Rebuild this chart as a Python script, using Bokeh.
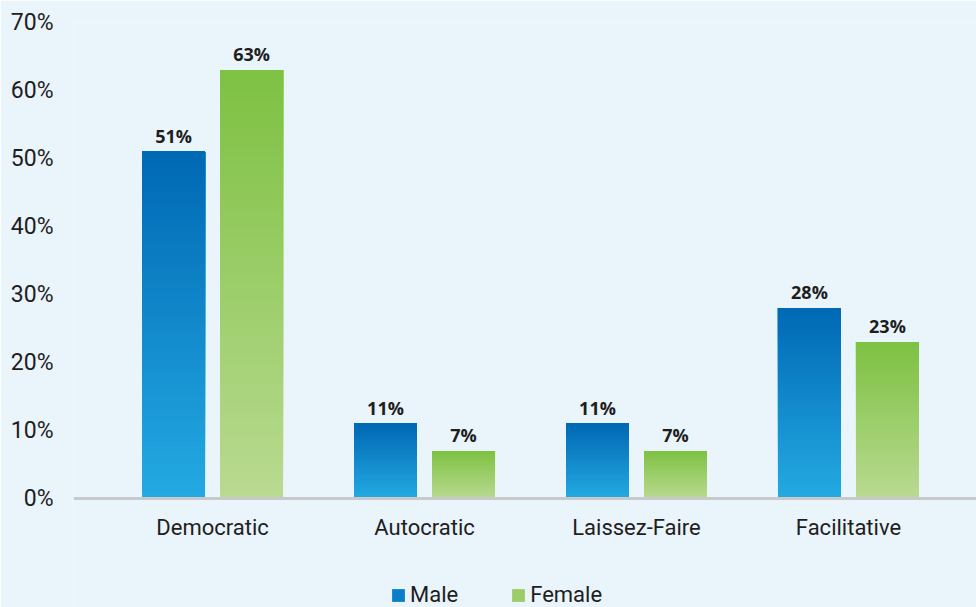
import numpy as np
from bokeh.plotting import figure
from bokeh.models import ColumnDataSource, Legend, LegendItem, FixedTicker, Span
from bokeh.core.properties import value
from bokeh.embed import file_html
from bokeh.resources import INLINE

# ---- data ----
categories = ["Democratic", "Autocratic", "Laissez-Faire", "Facilitative"]
male = [51, 11, 11, 28]
female = [63, 7, 7, 23]
series_names = ["Male", "Female"]
y_ticks = [0, 10, 20, 30, 40, 50, 60, 70]

# ---- style ----
BG = "#eaf4fb"
TXT = "#1e1e1e"
BLUE_TOP, BLUE_BOT = (0, 104, 180), (36, 170, 226)
GREEN_TOP, GREEN_BOT = (125, 193, 66), (186, 218, 145)
OFFSET = 0.184
WIDTH = 0.297
NSLICES = 60


def hexc(c):
    return "#%02x%02x%02x" % tuple(int(round(v)) for v in c)


def gradient_source(values, offset, ctop, cbot):
    # vertical gradient: stacked layers, each from its start up to the bar's value
    xs, bots, tops, cols = [], [], [], []
    for i, v in enumerate(values):
        for k in range(NSLICES):
            t = (k + 0.5) / NSLICES
            c = [cbot[j] + (ctop[j] - cbot[j]) * t for j in range(3)]
            xs.append(i + offset)
            bots.append(v * k / NSLICES)
            tops.append(v)
            cols.append(hexc(c))
    return ColumnDataSource(dict(x=xs, bottom=bots, top=tops, color=cols))


# frame runs to the bottom edge; value 0 sits 109 px above it
p = figure(frame_width=903, frame_height=585, x_range=(-0.656, 3.604), y_range=(-16.03, 70),
           output_backend="svg", toolbar_location=None,
           background_fill_color=BG, border_fill_color=BG,
           outline_line_color=None,
           min_border_left=73, min_border_right=0, min_border_top=22, min_border_bottom=0)
p.grid.visible = False
p.xaxis.visible = False

# baseline
p.add_layout(Span(location=0, dimension="width", line_color="#c8c9cb", line_width=3))

for vals, off, ct, cb in [(male, -OFFSET, BLUE_TOP, BLUE_BOT), (female, OFFSET, GREEN_TOP, GREEN_BOT)]:
    src = gradient_source(vals, off, ct, cb)
    p.vbar(x="x", bottom="bottom", top="top", width=WIDTH, source=src,
           fill_color="color", line_color=None)

# data labels
lab_x = [i - OFFSET for i in range(len(categories))] + [i + OFFSET for i in range(len(categories))]
lab_y = male + female
lab_t = [f"{v}%" for v in lab_y]
p.text(x=lab_x, y=lab_y, text=lab_t, text_align="center", text_baseline="bottom",
       y_offset=-4, text_font=value("Open Sans"), text_font_style="bold",
       text_font_size="18px", text_color=TXT)

# category labels
p.text(x=list(range(len(categories))), y=[0] * len(categories), text=categories,
       text_align="center", text_baseline="middle", y_offset=29,
       text_font=value("Roboto"), text_font_size="22px", text_color=TXT)

ya = p.yaxis[0]
ya.ticker = FixedTicker(ticks=y_ticks)
ya.major_label_overrides = {t: f"{t}%" for t in y_ticks}
ya.axis_line_color = None
ya.major_tick_line_color = None
ya.minor_tick_line_color = None
ya.major_label_standoff = 14
ya.major_label_text_font = "Roboto"
ya.major_label_text_font_size = "23px"
ya.major_label_text_color = TXT

# legend (zero-height dummy renderers, only their legend glyphs show)
r_m = p.vbar(x=[0], bottom=[0], top=[0], width=0.1, fill_color="#0a7ec6", line_color=None)
r_f = p.vbar(x=[0], bottom=[0], top=[0], width=0.1, fill_color="#9ccd66", line_color=None)
legend = Legend(items=[LegendItem(label=series_names[0], renderers=[r_m]),
                       LegendItem(label=series_names[1], renderers=[r_f])],
                orientation="horizontal", location=(317, 0),
                background_fill_color=BG, background_fill_alpha=0, border_line_color=None,
                glyph_width=16, glyph_height=16, label_standoff=4, spacing=52,
                padding=0, margin=0,
                label_text_font="Roboto", label_text_font_size="22px",
                label_text_color=TXT)
p.add_layout(legend, "center")

open("out.html", "w").write(file_html(p, INLINE))
